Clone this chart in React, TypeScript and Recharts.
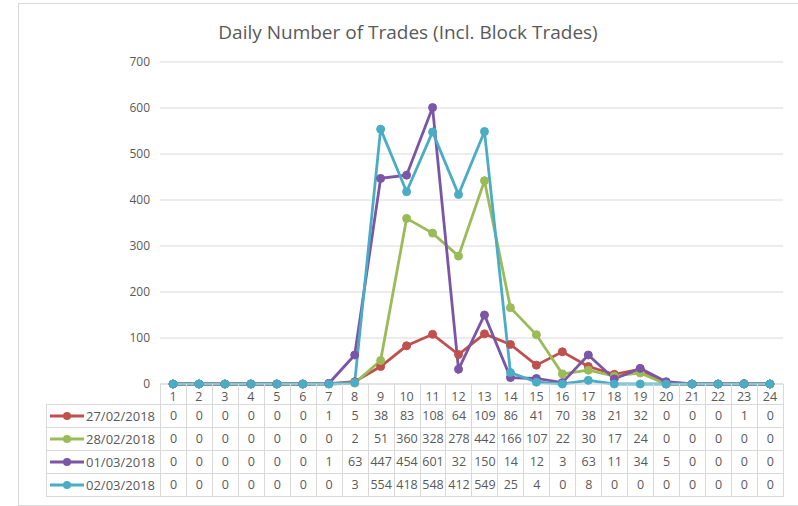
import { LineChart, Line, XAxis, YAxis, CartesianGrid } from 'recharts'

const hours = ['1', '2', '3', '4', '5', '6', '7', '8', '9', '10', '11', '12', '13', '14', '15', '16', '17', '18', '19', '20', '21', '22', '23', '24']
const trades2702 = [0, 0, 0, 0, 0, 0, 1, 5, 38, 83, 108, 64, 109, 86, 41, 70, 38, 21, 32, 0, 0, 0, 1, 0]
const trades2802 = [0, 0, 0, 0, 0, 0, 0, 2, 51, 360, 328, 278, 442, 166, 107, 22, 30, 17, 24, 0, 0, 0, 0, 0]
const trades0103 = [0, 0, 0, 0, 0, 0, 1, 63, 447, 454, 601, 32, 150, 14, 12, 3, 63, 11, 34, 5, 0, 0, 0, 0]
const trades0203 = [0, 0, 0, 0, 0, 0, 0, 3, 554, 418, 548, 412, 549, 25, 4, 0, 8, 0, 0, 0, 0, 0, 0, 0]
const seriesNames = ['27/02/2018', '28/02/2018', '01/03/2018', '02/03/2018']
const seriesColors = ['#c0504d', '#9bbb59', '#7b55a6', '#4bacc6']
const yTicks = [0, 100, 200, 300, 400, 500, 600, 700]

const allSeries = [trades2702, trades2802, trades0103, trades0203]
const gray = '#595959'
const lineGray = '#d9d9d9'
const font = '"Open Sans", sans-serif'

// plot area spans x 160..783, table columns line up with it
const plotLeft = 160
const plotRight = 783
const colW = (plotRight - plotLeft) / hours.length

function Marker({ color }: { color: string }) {
  return (
    <svg width={34} height={10} style={{ display: 'block', marginRight: 2 }}>
      <line x1={0} y1={5} x2={34} y2={5} stroke={color} strokeWidth={3} />
      <circle cx={17} cy={5} r={4} fill={color} />
    </svg>
  )
}

export default function App() {
  const data = hours.map((h, i) => ({
    hour: h,
    s0: trades2702[i],
    s1: trades2802[i],
    s2: trades0103[i],
    s3: trades0203[i],
  }))

  const cell = {
    border: `1px solid ${lineGray}`,
    padding: 0,
    textAlign: 'center' as const,
    fontSize: 12.5,
    color: gray,
    whiteSpace: 'nowrap' as const,
    overflow: 'hidden',
  }

  return (
    <div style={{ position: 'absolute', left: 0, top: 0, width: 798, height: 506, background: '#fff', fontFamily: font }}>
      <div style={{ position: 'absolute', left: 18, top: 3, width: 790, height: 501, borderLeft: `1px solid ${lineGray}`, borderTop: `1px solid ${lineGray}`, borderBottom: `1px solid ${lineGray}` }} />
      <div style={{ position: 'absolute', left: 18, width: 780, top: 19, textAlign: 'center', fontSize: 19, color: gray }}>
        Daily Number of Trades (Incl. Block Trades)
      </div>
      <div style={{ position: 'absolute', left: 0, top: 0 }}>
        <LineChart width={798} height={506} data={data} margin={{ top: 62, right: 798 - plotRight, bottom: 101, left: 120 }}>
          <CartesianGrid vertical={false} stroke={lineGray} />
          <XAxis dataKey="hour" height={21} interval={0} tickLine={false} axisLine={{ stroke: lineGray }}
            padding={{ left: colW / 2, right: colW / 2 }}
            tick={{ fontSize: 12.5, fill: gray, fontFamily: font }} tickMargin={2} />
          <YAxis domain={[0, 700]} ticks={yTicks} width={40} axisLine={false} tickLine={false}
            tick={{ fontSize: 12, fill: gray, fontFamily: font }} tickMargin={4} />
          {allSeries.map((_, k) => (
            <Line key={k} type="linear" dataKey={`s${k}`} name={seriesNames[k]} stroke={seriesColors[k]} strokeWidth={2.8}
              dot={{ r: 4, fill: seriesColors[k], stroke: seriesColors[k], strokeWidth: 1 }} isAnimationActive={false} />
          ))}
        </LineChart>
      </div>
      <table style={{ position: 'absolute', left: 46, top: 384, width: plotRight - 46, borderCollapse: 'collapse', tableLayout: 'fixed', fontFamily: font, pointerEvents: 'none' }}>
        <colgroup>
          <col style={{ width: plotLeft - 46 }} />
          {hours.map(h => <col key={h} style={{ width: colW }} />)}
        </colgroup>
        <tbody>
          <tr style={{ height: 20 }}>
            <td style={{ ...cell, borderTop: 'hidden', borderLeft: 'hidden' }} />
            {hours.map(h => <td key={h} style={{ ...cell, borderTop: 'hidden' }} />)}
          </tr>
          {allSeries.map((vals, k) => (
            <tr key={k} style={{ height: 23 }}>
              <td style={{ ...cell, textAlign: 'left' }}>
                <div style={{ display: 'flex', alignItems: 'center', paddingLeft: 3, fontSize: 13 }}>
                  <Marker color={seriesColors[k]} />
                  <span>{seriesNames[k]}</span>
                </div>
              </td>
              {vals.map((v, i) => <td key={i} style={cell}>{v}</td>)}
            </tr>
          ))}
        </tbody>
      </table>
    </div>
  )
}
